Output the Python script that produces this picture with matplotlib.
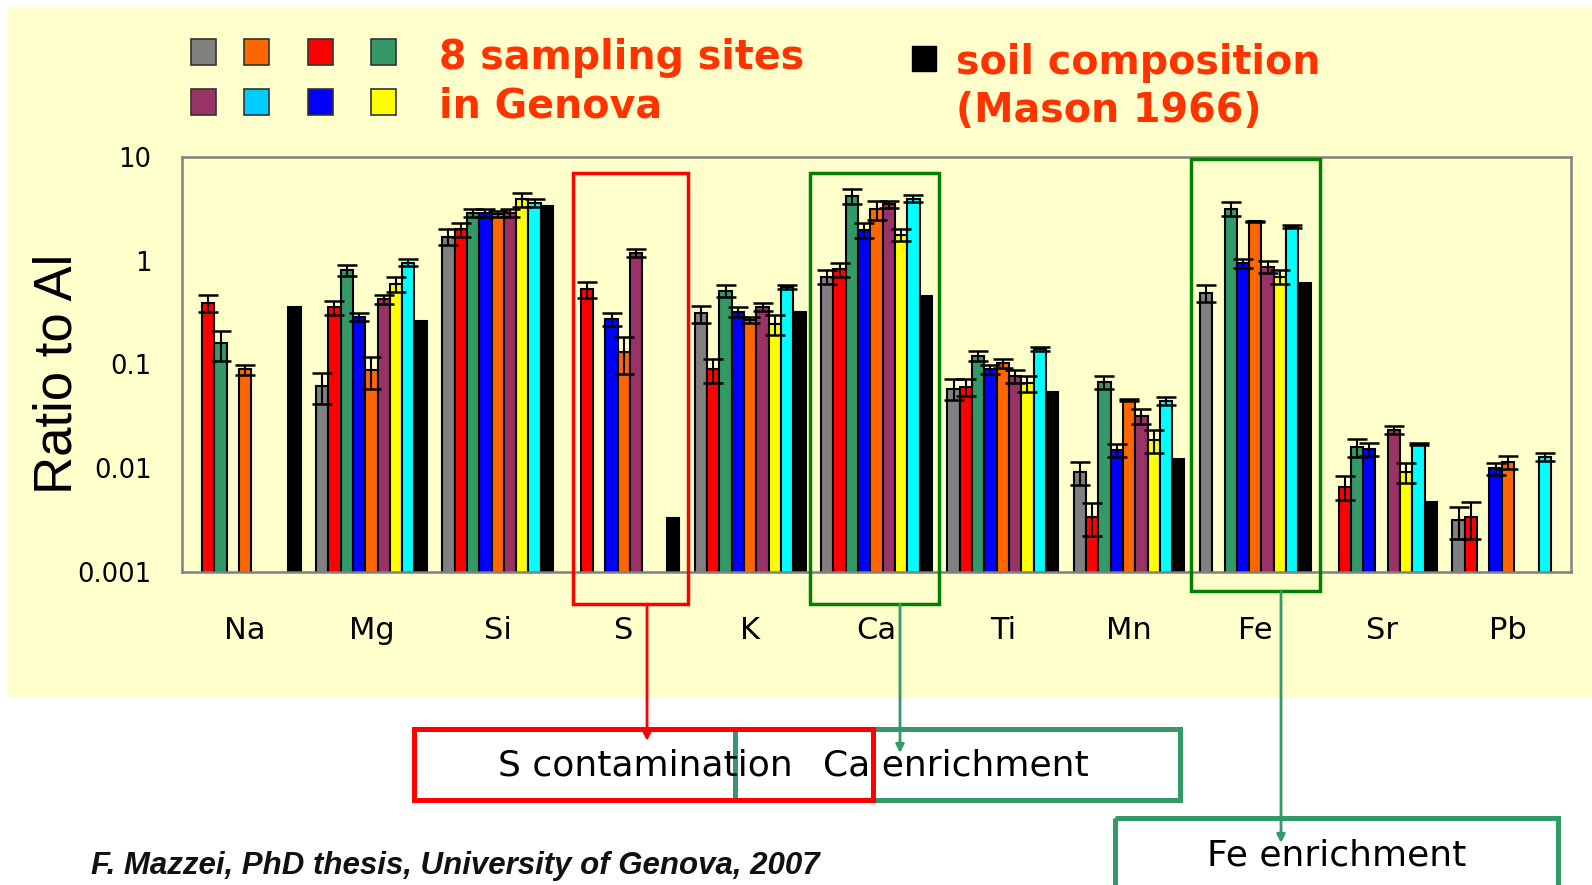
import matplotlib
matplotlib.use('Agg')
import matplotlib.pyplot as plt
from matplotlib import font_manager
from matplotlib.patches import Rectangle
import numpy as np

nan = np.nan

elements = ['Na', 'Mg', 'Si', 'S', 'K', 'Ca', 'Ti', 'Mn', 'Fe', 'Sr', 'Pb']

# ratio to Al for the 8 sampling sites (order of the bars inside each group)
gray   = [nan, 0.062, 1.71, nan, 0.311, 0.703, 0.0585, 0.0092, 0.492, nan, 0.00317]
red    = [0.394, 0.356, 2.01, 0.53, 0.090, 0.826, 0.061, 0.0034, nan, 0.00665, 0.0034]
green  = [0.16, 0.81, 2.90, nan, 0.515, 4.21, 0.121, 0.0678, 3.18, 0.0159, nan]
blue   = [nan, 0.289, 2.90, 0.272, 0.32, 1.98, 0.090, 0.015, 0.944, 0.0152, 0.0100]
orange = [0.090, 0.0885, 2.83, 0.132, 0.269, 3.13, 0.1026, 0.0455, 2.40, nan, 0.0115]
purple = [nan, 0.425, 2.87, 1.20, 0.36, 3.52, 0.0775, 0.0319, 0.877, 0.0234, nan]
yellow = [nan, 0.597, 3.91, nan, 0.245, 1.78, 0.066, 0.0187, 0.703, 0.0092, nan]
cyan   = [nan, 0.958, 3.63, nan, 0.56, 3.96, 0.142, 0.0448, 2.13, 0.0171, 0.0129]

gray_err   = [nan, 0.020, 0.30, nan, 0.058, 0.107, 0.0135, 0.0023, 0.088, nan, 0.0011]
red_err    = [0.073, 0.054, 0.32, 0.094, 0.024, 0.13, 0.011, 0.0012, nan, 0.0017, 0.0013]
green_err  = [0.052, 0.09, 0.28, nan, 0.065, 0.68, 0.013, 0.0097, 0.50, 0.0031, nan]
blue_err   = [nan, 0.027, 0.28, 0.039, 0.036, 0.32, 0.0098, 0.0021, 0.086, 0.0022, 0.0013]
orange_err = [0.010, 0.030, 0.20, 0.051, 0.020, 0.66, 0.0094, 0.0015, 0.02, nan, 0.0016]
purple_err = [nan, 0.040, 0.25, 0.11, 0.03, 0.27, 0.011, 0.0051, 0.123, 0.0021, nan]
yellow_err = [nan, 0.093, 0.62, nan, 0.053, 0.23, 0.0115, 0.0047, 0.107, 0.002, nan]
cyan_err   = [nan, 0.072, 0.35, nan, 0.02, 0.31, 0.006, 0.0042, 0.07, 0.0004, 0.0012]

# soil composition (Mason 1966)
soil = [0.356, 0.262, 3.39, 0.00329, 0.32, 0.46, 0.0543, 0.0122, 0.615, 0.00476, nan]

sites = [gray, red, green, blue, orange, purple, yellow, cyan]
errs = [gray_err, red_err, green_err, blue_err, orange_err, purple_err, yellow_err, cyan_err]
colors = ['#808080', '#FF0000', '#339966', '#0000FF', '#FF6600', '#993366', '#FFFF00', '#00FFFF']

# legend squares (as in the original slide)
legend_colors = ['#808080', '#FF6600', '#FF0000', '#339966',
                 '#993366', '#00CCFF', '#0000FF', '#FFFF00']

names = {f.name for f in font_manager.fontManager.ttflist}
narrow = 'Liberation Sans Narrow' if 'Liberation Sans Narrow' in names else 'DejaVu Sans'

W, H = 1592, 885
fig = plt.figure(figsize=(W / 100, H / 100), dpi=100)
fig.patch.set_facecolor('white')

# yellow slide background
fig.patches.append(Rectangle((8 / W, 1 - 698 / H), 1, (698 - 7) / H,
                             transform=fig.transFigure, facecolor='#FFFFCC',
                             edgecolor='none', zorder=-1))

ax = fig.add_axes([182 / W, 1 - 572 / H, (1571 - 182) / W, (572 - 157) / H])
ax.set_facecolor('none')
ax.set_yscale('log')

x = np.arange(len(elements))
bw = 0.0975
for i, (vals, err, c) in enumerate(zip(sites, errs, colors)):
    pos = x + (i - 4) * bw
    ax.bar(pos, vals, width=bw, color=c, edgecolor='black', linewidth=1.5, zorder=2)
    ax.errorbar(pos, vals, yerr=err, fmt='none', ecolor='black', elinewidth=1.5,
                capsize=7.5, capthick=1.8, zorder=3)
ax.bar(x + 4 * bw, soil, width=bw, color='black', edgecolor='black', linewidth=1.5, zorder=2)

ax.set_ylim(0.001, 10)
ax.set_xlim(-0.5, len(elements) - 0.5)
ax.set_yticks([0.001, 0.01, 0.1, 1, 10])
ax.set_yticklabels(['0.001', '0.01', '0.1', '1', '10'], fontsize=18.5)
ax.minorticks_off()
ax.set_xticks(x)
ax.set_xticklabels(elements, fontsize=22, family=narrow)
ax.tick_params(axis='y', length=0, pad=22)
ax.tick_params(axis='x', length=0, pad=32)
for s in ax.spines.values():
    s.set_color('#808080')
    s.set_linewidth(1.8)

# annotation layer in pixel coordinates
ov = fig.add_axes([0, 0, 1, 1], zorder=5)
ov.set_xlim(0, W)
ov.set_ylim(H, 0)
ov.axis('off')
ov.patch.set_alpha(0)

ov.text(58, 374, 'Ratio to Al', fontsize=38, family='Liberation Sans', rotation=90,
        ha='center', va='center')

for k, c in enumerate(legend_colors):
    col = k % 4
    row = k // 4
    x0 = [191, 244, 308, 371][col]
    y0 = [39, 89][row]
    ov.add_patch(Rectangle((x0, y0), 25, 26, facecolor=c, edgecolor='#333333', lw=1.2))
ov.add_patch(Rectangle((912, 46), 24, 25, facecolor='black', edgecolor='black'))

title_kw = dict(fontsize=28.5, fontweight='bold', color='#FF3300', family='DejaVu Sans',
                va='baseline', ha='left')
ov.text(439, 69, '8 sampling sites', **title_kw)
ov.text(439, 118, 'in Genova', **title_kw)
ov.text(956, 74, 'soil composition', **title_kw)
ov.text(956, 122, '(Mason 1966)', **title_kw)

# highlight boxes
ov.add_patch(Rectangle((573, 173), 115, 431, fill=False, edgecolor='#FF0000', lw=2.5))
ov.add_patch(Rectangle((810, 173), 129, 431, fill=False, edgecolor='#008000', lw=2.5))
ov.add_patch(Rectangle((1191, 159), 129, 432, fill=False, edgecolor='#008000', lw=2.5))

arrow_kw = dict(arrowstyle='-|>', mutation_scale=12, lw=2, shrinkA=0, shrinkB=0)
ov.annotate('', xy=(647, 741), xytext=(647, 604),
            arrowprops=dict(color='#FF0000', **arrow_kw))
ov.annotate('', xy=(900, 753), xytext=(900, 604),
            arrowprops=dict(color='#339966', **arrow_kw))
ov.annotate('', xy=(1281, 843), xytext=(1281, 591),
            arrowprops=dict(color='#339966', **arrow_kw))

ov.add_patch(Rectangle((735, 729), 445, 71, facecolor='none', edgecolor='#339966', lw=3.6))
ov.add_patch(Rectangle((414, 729), 459, 71, facecolor='none', edgecolor='#FF0000', lw=3.6))
ov.add_patch(Rectangle((1115, 818), 443, 80, facecolor='none', edgecolor='#339966', lw=3.6))

ov.text(645, 766, 'S contamination', fontsize=26, family=narrow, ha='center', va='center')
ov.text(956, 766, 'Ca enrichment', fontsize=26, family=narrow, ha='center', va='center')
ov.text(1337, 855, 'Fe enrichment', fontsize=26, family=narrow, ha='center', va='center')

ov.text(91, 866, 'F. Mazzei, PhD thesis, University of Genova, 2007', fontsize=22.5,
        fontweight='bold', fontstyle='italic', family='Liberation Sans',
        ha='left', va='center', color='#111111')

fig.savefig('out.png', dpi=100)
